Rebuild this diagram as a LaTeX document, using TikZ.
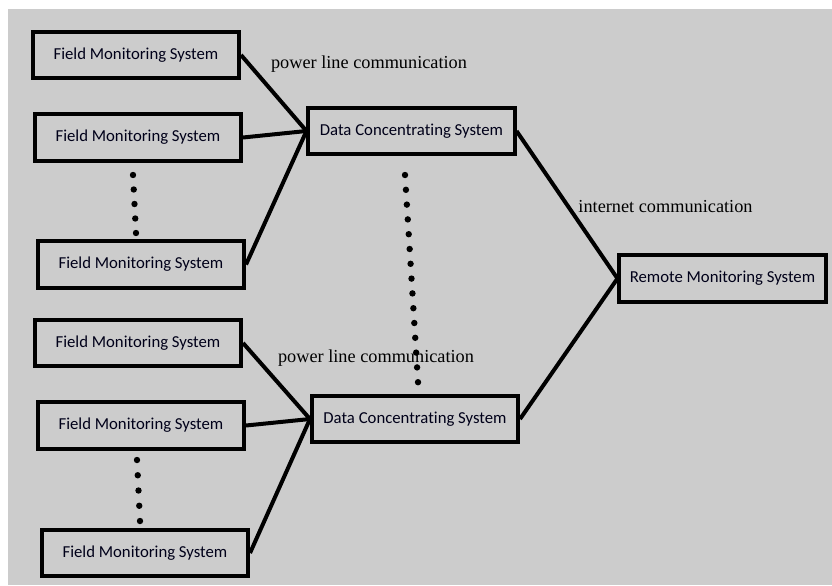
\documentclass[tikz,border=0pt]{standalone}
\usepackage{fontspec}
\setsansfont[Ligatures=NoCommon]{Carlito}
\setmainfont{Liberation Serif}
\usepackage{tikz}
\usetikzlibrary{positioning}

\begin{document}
\begin{tikzpicture}[
  x=0.025cm, y=-0.025cm,
  box/.style={draw, line width=0.1cm, minimum height=1.16cm, minimum width=5.15cm, align=center, font=\sffamily\fontsize{11.9}{13}\selectfont, text=black!90!blue},
  lab/.style={font=\fontsize{13}{15}\selectfont},
  link/.style={line width=0.1cm}
]
  \useasboundingbox (0,0) rectangle (832,585);
  \fill[black!20] (8,9) rectangle (832,585);

  \node[box] (fms1) at (136,55) {Field Monitoring System};
  \node[box] (fms2) at (138,137.5) {Field Monitoring System};
  \node[box] (fms3) at (141,264.5) {Field Monitoring System};
  \node[box] (fms4) at (138,343) {Field Monitoring System};
  \node[box] (fms5) at (141,425.5) {Field Monitoring System};
  \node[box] (fms6) at (145,553) {Field Monitoring System};

  \node[box] (dcs1) at (411.5,131) {Data Concentrating System};
  \node[box] (dcs2) at (415,419) {Data Concentrating System};
  \node[box] (rms) at (722.5,278.5) {Remote Monitoring System};

  \node[lab] (plc1) at (369,64) {power line communication};
  \node[lab] (plc2) at (376,358) {power line communication};
  \node[lab] (inet) at (665.5,207) {internet communication};

  \foreach \i in {0,...,4}
    \fill (133+0.75*\i,175+14.5*\i) circle (0.08cm);
  \foreach \i in {0,...,4}
    \fill (137+0.75*\i,460+15.25*\i) circle (0.08cm);
  \foreach \i in {0,...,14}
    \fill (405+0.93*\i,175+14.8*\i) circle (0.08cm);

  \draw[link] (fms1.east) -- (dcs1.west);
  \draw[link] (fms2.east) -- (dcs1.west);
  \draw[link] (fms3.east) -- (dcs1.west);
  \draw[link] (fms4.east) -- (dcs2.west);
  \draw[link] (fms5.east) -- (dcs2.west);
  \draw[link] (fms6.east) -- (dcs2.west);
  \draw[link] (dcs1.east) -- (rms.west);
  \draw[link] (dcs2.east) -- (rms.west);
\end{tikzpicture}
\end{document}
